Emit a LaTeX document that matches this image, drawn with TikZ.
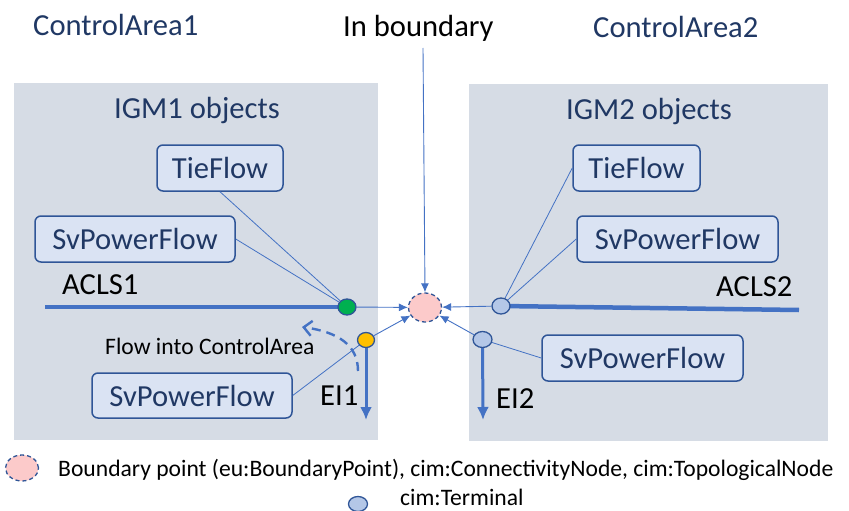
\documentclass[tikz,border=0pt]{standalone}
\usepackage{fontspec}
\setmainfont{Carlito}
\usetikzlibrary{arrows.meta,shapes.geometric}

\definecolor{panelfill}{HTML}{D6DCE5}
\definecolor{boxfill}{HTML}{DAE3F3}
\definecolor{boxline}{HTML}{2F5597}
\definecolor{navy}{HTML}{203864}
\definecolor{wire}{HTML}{4472C4}
\definecolor{termfill}{HTML}{B4C7E7}
\definecolor{cnodefill}{HTML}{00B050}
\definecolor{eifill}{HTML}{FFC000}
\definecolor{bpfill}{HTML}{FCCACA}

\tikzset{
  big/.style={font=\fontsize{30.6}{36}\selectfont},
  small/.style={font=\fontsize{23.6}{28}\selectfont},
  objbox/.style={big, draw=boxline, fill=boxfill, line width=1.5pt,
    rounded corners=6pt, text=navy, inner sep=0pt},
  term/.style={ellipse, draw=boxline, line width=1.3pt, inner sep=0pt,
    minimum width=18pt, minimum height=16pt},
  bpoint/.style={ellipse, draw=boxline, fill=bpfill,
    dash pattern=on 4pt off 3pt, line width=1.3pt, inner sep=0pt},
  link/.style={draw=wire, line width=0.8pt},
  feed/.style={draw=wire, line width=0.9pt, -{Latex[length=9pt,width=8pt]}},
  busbar/.style={draw=wire, line width=4.5pt},
  injection/.style={draw=wire, line width=3pt, -{Latex[length=13pt,width=12pt]}},
  lbl/.style={big, anchor=base west, inner sep=0pt},
}

\begin{document}
\begin{tikzpicture}[x=1pt, y=-1pt]
\useasboundingbox (0,0) rectangle (849,511);

% control-area panels
\fill[panelfill] (14,83) rectangle (378,440);
\fill[panelfill] (469,84) rectangle (828,441);

% headings
\node[lbl, text=navy] (ca1) at (33,36) {ControlArea1};
\node[lbl] (inb) at (343,36.5) {In boundary};
\node[lbl, text=navy] (ca2) at (593,38) {ControlArea2};
\node[lbl, text=navy] (igm1) at (114,118) {IGM1 objects};
\node[lbl, text=navy] (igm2) at (566,119) {IGM2 objects};

% IGM objects
\node[objbox, minimum width=126pt, minimum height=46pt] (tf1) at (220,168) {TieFlow};
\node[objbox, minimum width=200pt, minimum height=46pt] (sv1) at (135,239) {SvPowerFlow};
\node[objbox, minimum width=200pt, minimum height=45pt] (sv1b) at (192,395.5) {SvPowerFlow};
\node[objbox, minimum width=127pt, minimum height=46pt] (tf2) at (636.5,168) {TieFlow};
\node[objbox, minimum width=201pt, minimum height=46pt] (sv2) at (677.5,239) {SvPowerFlow};
\node[objbox, minimum width=201pt, minimum height=46pt] (sv2b) at (642.5,358) {SvPowerFlow};

% terminal positions and boundary point
\coordinate (g) at (347,307);
\coordinate (y) at (366,340);
\coordinate (t2) at (501,306);
\coordinate (t3) at (482.5,339.5);
\node[bpoint, minimum width=33pt, minimum height=29pt] (bp) at (425,307.5) {};

% free ends
\coordinate (acls1end) at (45,307);
\coordinate (acls2end) at (799,310);
\coordinate (ei1end) at (366,420);
\coordinate (ei2end) at (483,420);
\coordinate (inbtop) at (423,48);
\coordinate (flowstart) at (358,371);
\coordinate (flowtip) at (302,327);

% associations from the measurements to the terminals
\path[link] (tf1.south) -- (g);
\path[link] (sv1.east) -- (g);
\path[link] (sv1b.east) -- (y);
\path[link] (tf2.west) -- (t2);
\path[link] (sv2.west) -- (t2);
\path[link] (sv2b.west) -- (t3);

% lines and equivalent injections
\path[busbar] (acls1end) -- (g);
\path[busbar] (t2) -- (acls2end);
\path[injection] (y) -- (ei1end);
\path[injection] (t3) -- (ei2end);

% terminals on top of the wires
\node[term, fill=cnodefill] (gt) at (g) {};
\node[term, fill=eifill, minimum width=17pt, minimum height=15pt] (yt) at (y) {};
\node[term, fill=termfill] (t2t) at (t2) {};
\node[term, fill=termfill, minimum width=19pt] (t3t) at (t3) {};

% references to the boundary point
\path[feed] (gt) -- (bp);
\path[feed] (yt) -- (bp);
\path[feed] (t2t) -- (bp);
\path[feed] (t3t) -- (bp);
\path[feed] (inbtop) -- (bp.north);

% direction of flow
\draw[wire, line width=2.4pt, dash pattern=on 9pt off 6pt, -{Straight Barb[length=8pt,width=15pt]}]
  (flowstart) .. controls (358,345) and (338,332) .. (flowtip);

% line labels
\node[lbl] (acls1) at (62,294) {ACLS1};
\node[lbl] (acls2) at (716,296) {ACLS2};
\node[lbl] (ei1) at (320,405) {EI1};
\node[lbl] (ei2) at (496,408) {EI2};
\node[small, anchor=base west, inner sep=0pt] (flow) at (105,354) {Flow into ControlArea};

% legend
\node[bpoint, minimum width=33pt, minimum height=26pt] (legbp) at (22,468) {};
\node[small, anchor=base west, inner sep=0pt] (legbptxt) at (58,476)
  {Boundary point (eu:BoundaryPoint), cim:ConnectivityNode, cim:TopologicalNode};
\node[term, fill=termfill, minimum width=19pt, minimum height=15pt] (legt) at (358,504) {};
\node[small, anchor=base west, inner sep=0pt] (legttxt) at (400,505) {cim:Terminal};
\end{tikzpicture}
\end{document}
